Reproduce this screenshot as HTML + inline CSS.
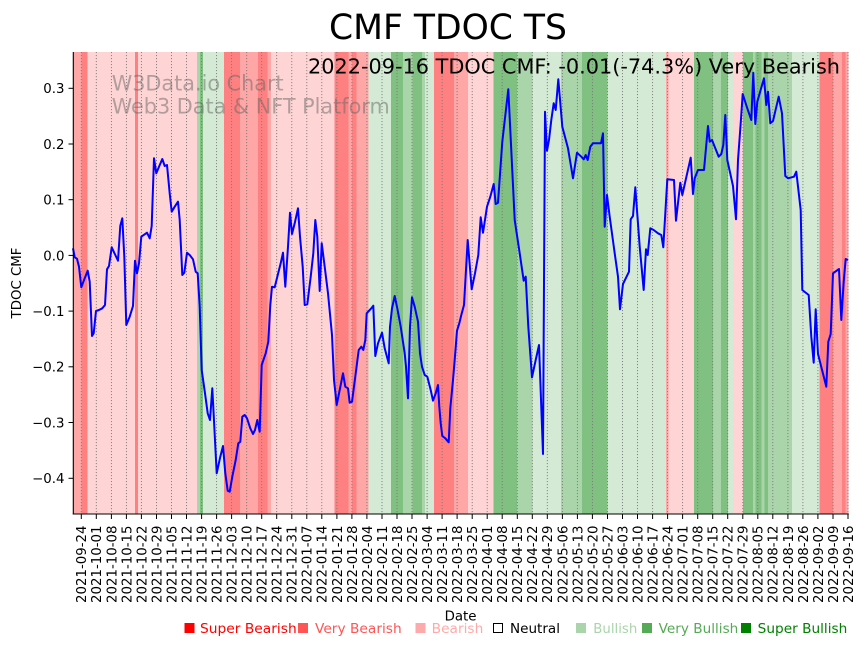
<!DOCTYPE html>
<html>
<head>
<meta charset="utf-8">
<style>
html,body{margin:0;padding:0;background:#fff;}
svg{display:block;}
text{font-family:"DejaVu Sans","Liberation Sans",sans-serif;}
</style>
</head>
<body>
<svg width="864" height="646" viewBox="0 0 864 646" xmlns="http://www.w3.org/2000/svg">
<rect x="0" y="0" width="864" height="646" fill="#fff"/>
<!-- background bands -->
<g shape-rendering="crispEdges">
<rect x="73.3" y="52" width="8.4" height="462" fill="#ffa6a6"/>
<rect x="81.7" y="52" width="6" height="462" fill="#ff8080"/>
<rect x="87.7" y="52" width="47.3" height="462" fill="#ffd4d4"/>
<rect x="135" y="52" width="3" height="462" fill="#ff8080"/>
<rect x="138" y="52" width="59" height="462" fill="#ffd4d4"/>
<rect x="197" y="52" width="3" height="462" fill="#aad4aa"/>
<rect x="200" y="52" width="3" height="462" fill="#80c080"/>
<rect x="203" y="52" width="21" height="462" fill="#d4ead4"/>
<rect x="224" y="52" width="16" height="462" fill="#ff8080"/>
<rect x="240" y="52" width="18" height="462" fill="#ffa6a6"/>
<rect x="258" y="52" width="9.5" height="462" fill="#ff8080"/>
<rect x="267.5" y="52" width="3.5" height="462" fill="#ffa6a6"/>
<rect x="271" y="52" width="63.7" height="462" fill="#ffd4d4"/>
<rect x="334.7" y="52" width="14" height="462" fill="#ff8080"/>
<rect x="348.7" y="52" width="3.3" height="462" fill="#ffa6a6"/>
<rect x="352" y="52" width="4.7" height="462" fill="#ff8080"/>
<rect x="356.7" y="52" width="12" height="462" fill="#ffa6a6"/>
<rect x="368.7" y="52" width="22.3" height="462" fill="#d4ead4"/>
<rect x="391" y="52" width="12" height="462" fill="#80c080"/>
<rect x="403" y="52" width="9.5" height="462" fill="#aad4aa"/>
<rect x="412.5" y="52" width="9.5" height="462" fill="#80c080"/>
<rect x="422" y="52" width="3" height="462" fill="#aad4aa"/>
<rect x="425" y="52" width="9" height="462" fill="#d4ead4"/>
<rect x="434" y="52" width="20" height="462" fill="#ff8080"/>
<rect x="454" y="52" width="14" height="462" fill="#ffa6a6"/>
<rect x="468" y="52" width="25.3" height="462" fill="#ffd4d4"/>
<rect x="493.3" y="52" width="23.7" height="462" fill="#80c080"/>
<rect x="517" y="52" width="15.5" height="462" fill="#aad4aa"/>
<rect x="532.5" y="52" width="28.5" height="462" fill="#d4ead4"/>
<rect x="561" y="52" width="21" height="462" fill="#aad4aa"/>
<rect x="582" y="52" width="25.3" height="462" fill="#80c080"/>
<rect x="607.3" y="52" width="58.7" height="462" fill="#d4ead4"/>
<rect x="666" y="52" width="2.3" height="462" fill="#ffa6a6"/>
<rect x="668.3" y="52" width="25.7" height="462" fill="#ffd4d4"/>
<rect x="694" y="52" width="19" height="462" fill="#80c080"/>
<rect x="713" y="52" width="8" height="462" fill="#aad4aa"/>
<rect x="721" y="52" width="7" height="462" fill="#80c080"/>
<rect x="728" y="52" width="6" height="462" fill="#d4ead4"/>
<rect x="734" y="52" width="9" height="462" fill="#ffd4d4"/>
<rect x="743" y="52" width="10" height="462" fill="#80c080"/>
<rect x="753" y="52" width="2.3" height="462" fill="#aad4aa"/>
<rect x="755.3" y="52" width="6" height="462" fill="#80c080"/>
<rect x="761.3" y="52" width="3.4" height="462" fill="#aad4aa"/>
<rect x="764.7" y="52" width="3.3" height="462" fill="#80c080"/>
<rect x="768" y="52" width="24" height="462" fill="#aad4aa"/>
<rect x="792" y="52" width="27.7" height="462" fill="#d4ead4"/>
<rect x="819.7" y="52" width="13.3" height="462" fill="#ff8080"/>
<rect x="833" y="52" width="9" height="462" fill="#ffa6a6"/>
<rect x="842" y="52" width="3.3" height="462" fill="#ff8080"/>
<rect x="845.3" y="52" width="3.4" height="462" fill="#ffa6a6"/>
</g>
<!-- vertical dotted grid -->
<g stroke="#7a7a7a" stroke-width="0.9" stroke-dasharray="1.1,1.9">
<line x1="81.3" y1="52" x2="81.3" y2="514"/>
<line x1="96.3" y1="52" x2="96.3" y2="514"/>
<line x1="111.4" y1="52" x2="111.4" y2="514"/>
<line x1="126.4" y1="52" x2="126.4" y2="514"/>
<line x1="141.4" y1="52" x2="141.4" y2="514"/>
<line x1="156.5" y1="52" x2="156.5" y2="514"/>
<line x1="171.5" y1="52" x2="171.5" y2="514"/>
<line x1="186.5" y1="52" x2="186.5" y2="514"/>
<line x1="201.6" y1="52" x2="201.6" y2="514"/>
<line x1="216.6" y1="52" x2="216.6" y2="514"/>
<line x1="231.6" y1="52" x2="231.6" y2="514"/>
<line x1="246.7" y1="52" x2="246.7" y2="514"/>
<line x1="261.7" y1="52" x2="261.7" y2="514"/>
<line x1="276.7" y1="52" x2="276.7" y2="514"/>
<line x1="291.8" y1="52" x2="291.8" y2="514"/>
<line x1="306.8" y1="52" x2="306.8" y2="514"/>
<line x1="321.8" y1="52" x2="321.8" y2="514"/>
<line x1="336.9" y1="52" x2="336.9" y2="514"/>
<line x1="351.9" y1="52" x2="351.9" y2="514"/>
<line x1="366.9" y1="52" x2="366.9" y2="514"/>
<line x1="382.0" y1="52" x2="382.0" y2="514"/>
<line x1="397.0" y1="52" x2="397.0" y2="514"/>
<line x1="412.0" y1="52" x2="412.0" y2="514"/>
<line x1="427.1" y1="52" x2="427.1" y2="514"/>
<line x1="442.1" y1="52" x2="442.1" y2="514"/>
<line x1="457.1" y1="52" x2="457.1" y2="514"/>
<line x1="472.2" y1="52" x2="472.2" y2="514"/>
<line x1="487.2" y1="52" x2="487.2" y2="514"/>
<line x1="502.2" y1="52" x2="502.2" y2="514"/>
<line x1="517.3" y1="52" x2="517.3" y2="514"/>
<line x1="532.3" y1="52" x2="532.3" y2="514"/>
<line x1="547.3" y1="52" x2="547.3" y2="514"/>
<line x1="562.4" y1="52" x2="562.4" y2="514"/>
<line x1="577.4" y1="52" x2="577.4" y2="514"/>
<line x1="592.4" y1="52" x2="592.4" y2="514"/>
<line x1="607.5" y1="52" x2="607.5" y2="514"/>
<line x1="622.5" y1="52" x2="622.5" y2="514"/>
<line x1="637.5" y1="52" x2="637.5" y2="514"/>
<line x1="652.6" y1="52" x2="652.6" y2="514"/>
<line x1="667.6" y1="52" x2="667.6" y2="514"/>
<line x1="682.6" y1="52" x2="682.6" y2="514"/>
<line x1="697.7" y1="52" x2="697.7" y2="514"/>
<line x1="712.7" y1="52" x2="712.7" y2="514"/>
<line x1="727.7" y1="52" x2="727.7" y2="514"/>
<line x1="742.8" y1="52" x2="742.8" y2="514"/>
<line x1="757.8" y1="52" x2="757.8" y2="514"/>
<line x1="772.8" y1="52" x2="772.8" y2="514"/>
<line x1="787.9" y1="52" x2="787.9" y2="514"/>
<line x1="802.9" y1="52" x2="802.9" y2="514"/>
<line x1="817.9" y1="52" x2="817.9" y2="514"/>
<line x1="833.0" y1="52" x2="833.0" y2="514"/>
<line x1="848.0" y1="52" x2="848.0" y2="514"/>
</g>
<!-- watermark -->
<text x="111.7" y="90.7" font-size="21.5" fill="#666" fill-opacity="0.5" textLength="172" lengthAdjust="spacingAndGlyphs">W3Data.io Chart</text>
<text x="111.7" y="113.3" font-size="21.5" fill="#666" fill-opacity="0.5" textLength="278" lengthAdjust="spacingAndGlyphs">Web3 Data &amp; NFT Platform</text>
<!-- annotation -->
<text x="308" y="73.3" font-size="20.6" fill="#000" textLength="532" lengthAdjust="spacingAndGlyphs">2022-09-16 TDOC CMF: -0.01(-74.3%) Very Bearish</text>
<!-- line -->
<polyline fill="none" stroke="#0000ff" stroke-width="2" stroke-linejoin="round" points="73,248.3 74.7,257.3 77,258.7 79,266.7 81.3,287.3 84.7,278.3 87.7,270.7 89.7,281.7 92,336 93.7,333.3 96,311 99,310 102.3,308.3 105,305 107,269.3 109,266 111.7,247.3 115.3,255 118,260.7 120.3,225.7 122.3,218.3 124.3,256.7 126.3,325 129.7,316.7 133,306 135,260.7 137,273.3 139,263.3 141.3,236.7 147,232.7 149.7,238.3 151.7,226 154,158.3 156.3,173.3 159,166.7 162.3,159 164.7,166 167,165 169.7,193.3 171.7,211.7 174.7,206.7 178,201.7 179.7,220 182.3,275 184.3,272.7 187,252.7 189.7,255 193,259.3 195.7,271.7 197.7,273.3 199.7,306.7 201.7,370 205,393.3 207.7,413.3 210,420 212.3,388.3 214.3,426.7 216.7,473.3 220.3,456.7 223,446 225.3,473.3 227.7,490.7 229.7,491.7 232.3,476.7 235.7,460 238.3,443.3 240.3,441.7 242.3,416.7 244.7,415 247,418.3 250.3,428.3 253,434 255,430 257.3,420 259.7,431.7 261.7,365 265.7,353.3 268.3,341.7 270.3,305 272,286.7 274.7,287.3 277.3,276.7 280.7,263.3 283,252.7 285.3,286.7 288,246.7 290,212.7 292,234 294.7,223.3 298,208.3 300,236.7 302.7,266.7 304.7,305 307.3,304.3 310.7,276.7 313.3,253.3 315.3,220 317.3,236.7 319.7,291 321.7,243.3 324.7,266.7 328,293.3 332,335 334,380 336.7,405 339.7,390 343,373.3 345.3,386.7 348,388.3 349.7,402.7 352,401.7 355.3,376.7 358.7,350 361.3,346.7 363.3,350 365.3,340 366.7,313.3 371.3,308.3 373.3,305.7 375.3,356 378,343.3 382,332.7 384.7,348.3 388.7,363.3 390,326.7 392,308.3 394.7,296 397.3,308.3 400.7,326.7 404.7,353.3 406,366.7 408,398.3 410,326.7 412,297.3 414.7,306.7 418,321.7 420,353.3 422,366.7 424.7,375 427.3,376.7 430.7,390 433,400.7 435.7,393.3 438,385 439.3,406.7 440.7,423.3 442.3,436 445.3,438.3 448.7,442.3 450.3,408.3 453,380 454.7,360 457,330.7 459.3,323.3 461.3,315 464,305 467.7,240 471.7,289.3 475,273.3 478.3,255 480.7,217.3 483,232.7 487,206.7 490.3,196.7 493.7,184 495.7,204 498,202.7 502.3,141.7 508.3,89.3 514.7,220 519.7,253.3 523.7,280.7 525.7,276.7 528.3,326.7 532,377.3 535.7,360 539,345 543,454 545,111.7 547,150.7 549,140 551.3,120 553.7,103.3 555.7,110 558.3,79.3 562.3,126.7 568,148.3 573,178.3 577,152.7 581.3,156.7 583.7,159.3 585.7,155 587.7,160 590.3,146.7 593,143.3 601,143.3 603,133.3 604.7,226.7 607,195 609.7,216.7 614.7,253.3 618,276.7 620,309.3 623,284 629,271.7 630.7,219.3 633,216 635.3,187.3 639.7,246.7 643.7,290 646,249.3 647.7,255 650.3,228.3 653.7,230 658,233.3 661.3,235 663.3,247.3 667.3,179.3 674,180 676,220.7 680.3,182.7 682.3,195 690.7,157.7 693,194 694.7,178.3 698,170 704,170 708,126 709.7,141.7 712,140 715.3,148.3 718.7,156.7 721.3,154 723.3,145 725.3,115 727.3,160 733,186 736,219.3 738,160 740.7,123.3 742.7,94 747.3,108.3 751.3,120 753.3,72.7 755.3,124 757.3,101.7 764,78.3 766.3,105 768,91.7 770.3,123.3 773,121 778.7,96.7 782,113.3 785.3,176 788,178.3 794,176.7 796.3,171.7 800.7,210 802.3,290 808.7,295 811.3,336.7 813.7,362.7 815.7,309.3 818,354 826.3,386.7 828.3,341.7 830.7,334 833,273.3 839,269 841.3,320 843.7,281.7 845.7,259 848,260"/>
<!-- spines -->
<line x1="73.3" y1="52" x2="73.3" y2="514.5" stroke="#000" stroke-width="1.1"/>
<line x1="72.8" y1="514" x2="848.8" y2="514" stroke="#000" stroke-width="1.1"/>
<!-- y ticks -->
<g stroke="#000" stroke-width="1">
<line x1="68.5" y1="88.3" x2="73.3" y2="88.3"/>
<line x1="68.5" y1="144" x2="73.3" y2="144"/>
<line x1="68.5" y1="199.7" x2="73.3" y2="199.7"/>
<line x1="68.5" y1="255.4" x2="73.3" y2="255.4"/>
<line x1="68.5" y1="311.1" x2="73.3" y2="311.1"/>
<line x1="68.5" y1="366.8" x2="73.3" y2="366.8"/>
<line x1="68.5" y1="422.5" x2="73.3" y2="422.5"/>
<line x1="68.5" y1="478.3" x2="73.3" y2="478.3"/>
</g>
<g font-size="13.33" fill="#000" text-anchor="end">
<text x="64.5" y="93.2">0.3</text>
<text x="64.5" y="148.9">0.2</text>
<text x="64.5" y="204.6">0.1</text>
<text x="64.5" y="260.3">0.0</text>
<text x="64.5" y="316">−0.1</text>
<text x="64.5" y="371.7">−0.2</text>
<text x="64.5" y="427.4">−0.3</text>
<text x="64.5" y="483.2">−0.4</text>
</g>
<!-- x tick marks -->
<g stroke="#000" stroke-width="1">
<line x1="81.3" y1="514" x2="81.3" y2="519"/><line x1="96.3" y1="514" x2="96.3" y2="519"/><line x1="111.4" y1="514" x2="111.4" y2="519"/><line x1="126.4" y1="514" x2="126.4" y2="519"/><line x1="141.4" y1="514" x2="141.4" y2="519"/><line x1="156.5" y1="514" x2="156.5" y2="519"/><line x1="171.5" y1="514" x2="171.5" y2="519"/><line x1="186.5" y1="514" x2="186.5" y2="519"/><line x1="201.6" y1="514" x2="201.6" y2="519"/><line x1="216.6" y1="514" x2="216.6" y2="519"/><line x1="231.6" y1="514" x2="231.6" y2="519"/><line x1="246.7" y1="514" x2="246.7" y2="519"/><line x1="261.7" y1="514" x2="261.7" y2="519"/><line x1="276.7" y1="514" x2="276.7" y2="519"/><line x1="291.8" y1="514" x2="291.8" y2="519"/><line x1="306.8" y1="514" x2="306.8" y2="519"/><line x1="321.8" y1="514" x2="321.8" y2="519"/><line x1="336.9" y1="514" x2="336.9" y2="519"/><line x1="351.9" y1="514" x2="351.9" y2="519"/><line x1="366.9" y1="514" x2="366.9" y2="519"/><line x1="382.0" y1="514" x2="382.0" y2="519"/><line x1="397.0" y1="514" x2="397.0" y2="519"/><line x1="412.0" y1="514" x2="412.0" y2="519"/><line x1="427.1" y1="514" x2="427.1" y2="519"/><line x1="442.1" y1="514" x2="442.1" y2="519"/><line x1="457.1" y1="514" x2="457.1" y2="519"/><line x1="472.2" y1="514" x2="472.2" y2="519"/><line x1="487.2" y1="514" x2="487.2" y2="519"/><line x1="502.2" y1="514" x2="502.2" y2="519"/><line x1="517.3" y1="514" x2="517.3" y2="519"/><line x1="532.3" y1="514" x2="532.3" y2="519"/><line x1="547.3" y1="514" x2="547.3" y2="519"/><line x1="562.4" y1="514" x2="562.4" y2="519"/><line x1="577.4" y1="514" x2="577.4" y2="519"/><line x1="592.4" y1="514" x2="592.4" y2="519"/><line x1="607.5" y1="514" x2="607.5" y2="519"/><line x1="622.5" y1="514" x2="622.5" y2="519"/><line x1="637.5" y1="514" x2="637.5" y2="519"/><line x1="652.6" y1="514" x2="652.6" y2="519"/><line x1="667.6" y1="514" x2="667.6" y2="519"/><line x1="682.6" y1="514" x2="682.6" y2="519"/><line x1="697.7" y1="514" x2="697.7" y2="519"/><line x1="712.7" y1="514" x2="712.7" y2="519"/><line x1="727.7" y1="514" x2="727.7" y2="519"/><line x1="742.8" y1="514" x2="742.8" y2="519"/><line x1="757.8" y1="514" x2="757.8" y2="519"/><line x1="772.8" y1="514" x2="772.8" y2="519"/><line x1="787.9" y1="514" x2="787.9" y2="519"/><line x1="802.9" y1="514" x2="802.9" y2="519"/><line x1="817.9" y1="514" x2="817.9" y2="519"/><line x1="833.0" y1="514" x2="833.0" y2="519"/><line x1="848.0" y1="514" x2="848.0" y2="519"/>
</g>
<!-- x tick labels -->
<g font-size="13.33" fill="#000" text-anchor="end">
<text transform="translate(86.2,525.5) rotate(-90)">2021-09-24</text>
<text transform="translate(101.2,525.5) rotate(-90)">2021-10-01</text>
<text transform="translate(116.3,525.5) rotate(-90)">2021-10-08</text>
<text transform="translate(131.3,525.5) rotate(-90)">2021-10-15</text>
<text transform="translate(146.3,525.5) rotate(-90)">2021-10-22</text>
<text transform="translate(161.4,525.5) rotate(-90)">2021-10-29</text>
<text transform="translate(176.4,525.5) rotate(-90)">2021-11-05</text>
<text transform="translate(191.4,525.5) rotate(-90)">2021-11-12</text>
<text transform="translate(206.5,525.5) rotate(-90)">2021-11-19</text>
<text transform="translate(221.5,525.5) rotate(-90)">2021-11-26</text>
<text transform="translate(236.5,525.5) rotate(-90)">2021-12-03</text>
<text transform="translate(251.6,525.5) rotate(-90)">2021-12-10</text>
<text transform="translate(266.6,525.5) rotate(-90)">2021-12-17</text>
<text transform="translate(281.6,525.5) rotate(-90)">2021-12-24</text>
<text transform="translate(296.7,525.5) rotate(-90)">2021-12-31</text>
<text transform="translate(311.7,525.5) rotate(-90)">2022-01-07</text>
<text transform="translate(326.7,525.5) rotate(-90)">2022-01-14</text>
<text transform="translate(341.8,525.5) rotate(-90)">2022-01-21</text>
<text transform="translate(356.8,525.5) rotate(-90)">2022-01-28</text>
<text transform="translate(371.8,525.5) rotate(-90)">2022-02-04</text>
<text transform="translate(386.9,525.5) rotate(-90)">2022-02-11</text>
<text transform="translate(401.9,525.5) rotate(-90)">2022-02-18</text>
<text transform="translate(416.9,525.5) rotate(-90)">2022-02-25</text>
<text transform="translate(432.0,525.5) rotate(-90)">2022-03-04</text>
<text transform="translate(447.0,525.5) rotate(-90)">2022-03-11</text>
<text transform="translate(462.0,525.5) rotate(-90)">2022-03-18</text>
<text transform="translate(477.1,525.5) rotate(-90)">2022-03-25</text>
<text transform="translate(492.1,525.5) rotate(-90)">2022-04-01</text>
<text transform="translate(507.1,525.5) rotate(-90)">2022-04-08</text>
<text transform="translate(522.2,525.5) rotate(-90)">2022-04-15</text>
<text transform="translate(537.2,525.5) rotate(-90)">2022-04-22</text>
<text transform="translate(552.2,525.5) rotate(-90)">2022-04-29</text>
<text transform="translate(567.3,525.5) rotate(-90)">2022-05-06</text>
<text transform="translate(582.3,525.5) rotate(-90)">2022-05-13</text>
<text transform="translate(597.3,525.5) rotate(-90)">2022-05-20</text>
<text transform="translate(612.4,525.5) rotate(-90)">2022-05-27</text>
<text transform="translate(627.4,525.5) rotate(-90)">2022-06-03</text>
<text transform="translate(642.4,525.5) rotate(-90)">2022-06-10</text>
<text transform="translate(657.5,525.5) rotate(-90)">2022-06-17</text>
<text transform="translate(672.5,525.5) rotate(-90)">2022-06-24</text>
<text transform="translate(687.5,525.5) rotate(-90)">2022-07-01</text>
<text transform="translate(702.6,525.5) rotate(-90)">2022-07-08</text>
<text transform="translate(717.6,525.5) rotate(-90)">2022-07-15</text>
<text transform="translate(732.6,525.5) rotate(-90)">2022-07-22</text>
<text transform="translate(747.7,525.5) rotate(-90)">2022-07-29</text>
<text transform="translate(762.7,525.5) rotate(-90)">2022-08-05</text>
<text transform="translate(777.7,525.5) rotate(-90)">2022-08-12</text>
<text transform="translate(792.8,525.5) rotate(-90)">2022-08-19</text>
<text transform="translate(807.8,525.5) rotate(-90)">2022-08-26</text>
<text transform="translate(822.8,525.5) rotate(-90)">2022-09-02</text>
<text transform="translate(837.9,525.5) rotate(-90)">2022-09-09</text>
<text transform="translate(852.9,525.5) rotate(-90)">2022-09-16</text>
</g>
<!-- axis labels -->
<text x="460.5" y="620.5" font-size="13.33" text-anchor="middle" fill="#000">Date</text>
<text transform="translate(21,283) rotate(-90)" font-size="13.33" text-anchor="middle" fill="#000">TDOC CMF</text>
<!-- title -->
<text x="329" y="39" font-size="34.5" fill="#000" textLength="238" lengthAdjust="spacingAndGlyphs">CMF TDOC TS</text>
<!-- legend -->
<g font-size="13.33">
<rect x="184.5" y="623" width="10" height="10" fill="#ff0000"/>
<text x="200" y="633" fill="#ff0000" textLength="96.7" lengthAdjust="spacingAndGlyphs">Super Bearish</text>
<rect x="298" y="623" width="10" height="10" fill="#ff5555"/>
<text x="315" y="633" fill="#ff5555" textLength="86.7" lengthAdjust="spacingAndGlyphs">Very Bearish</text>
<rect x="415.5" y="623" width="10" height="10" fill="#ffaaaa"/>
<text x="431.7" y="633" fill="#ffaaaa" textLength="51.6" lengthAdjust="spacingAndGlyphs">Bearish</text>
<rect x="493.5" y="623.5" width="9" height="9" fill="none" stroke="#000" stroke-width="1"/>
<text x="510" y="633" fill="#000" textLength="50" lengthAdjust="spacingAndGlyphs">Neutral</text>
<rect x="576" y="623" width="10" height="10" fill="#aad4aa"/>
<text x="593.3" y="633" fill="#aad4aa" textLength="44" lengthAdjust="spacingAndGlyphs">Bullish</text>
<rect x="642" y="623" width="10" height="10" fill="#55aa55"/>
<text x="658.7" y="633" fill="#55aa55" textLength="79.6" lengthAdjust="spacingAndGlyphs">Very Bullish</text>
<rect x="741" y="623" width="10" height="10" fill="#008000"/>
<text x="757.7" y="633" fill="#008000" textLength="89.6" lengthAdjust="spacingAndGlyphs">Super Bullish</text>
</g>
</svg>
</body>
</html>
